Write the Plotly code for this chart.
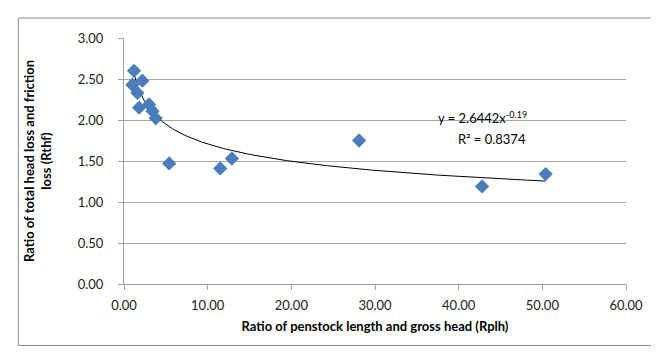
import numpy as np
import plotly.graph_objects as go

# Data
rplh = [1.2, 1.0, 2.2, 1.6, 1.8, 3.0, 3.4, 3.8, 5.4, 11.5, 12.9, 28.1, 42.8, 50.4]
rthf = [2.60, 2.43, 2.48, 2.33, 2.15, 2.19, 2.11, 2.02, 1.47, 1.41, 1.53, 1.75, 1.19, 1.34]

# Power trendline y = a * x^b
trend_a = 2.6442
trend_b = -0.19
r_squared = 0.8374

x_ticks = [0, 10, 20, 30, 40, 50, 60]
y_ticks = [0, 0.5, 1.0, 1.5, 2.0, 2.5, 3.0]

tx = np.linspace(min(rplh), max(rplh), 300)
ty = trend_a * tx ** trend_b

FONT = "Lato, 'Open Sans', sans-serif"

fig = go.Figure()
fig.add_trace(go.Scatter(
    x=tx, y=ty, mode="lines",
    line=dict(color="black", width=1), hoverinfo="skip", showlegend=False))
fig.add_trace(go.Scatter(
    x=rplh, y=rthf, mode="markers",
    marker=dict(symbol="diamond", size=11, color="#4A7EBB"),
    showlegend=False))

fig.update_layout(
    width=659, height=356,
    margin=dict(l=116, r=41, t=30, b=80),
    paper_bgcolor="white", plot_bgcolor="white",
    font=dict(family=FONT, size=13, color="#222222"),
    xaxis=dict(
        range=[0, 60], tickvals=x_ticks,
        ticktext=[f"{v:.2f}" for v in x_ticks],
        showgrid=False, zeroline=False,
        showline=True, linecolor="#A0A0A0", linewidth=1,
        ticks="outside", ticklen=5, tickcolor="#A0A0A0",
        ticklabelstandoff=4,
        title=dict(text="<b>Ratio of penstock length and gross head (Rplh)</b>",
                   font=dict(size=13, color="black"), standoff=10),
    ),
    yaxis=dict(
        range=[0, 3.0], tickvals=y_ticks,
        ticktext=[f"{v:.2f}" for v in y_ticks],
        showgrid=True, gridcolor="#A6A6A6", gridwidth=1,
        zeroline=False,
        showline=True, linecolor="#A0A0A0", linewidth=1,
        ticks="outside", ticklen=5, tickcolor="#A0A0A0",
        ticklabelstandoff=12,
        title=dict(text="<b>Ratio of total head loss and friction<br>loss (Rthf)</b>",
                   font=dict(size=13, color="black"), standoff=23),
    ),
    shapes=[dict(type="rect", xref="paper", yref="paper",
                 x0=-0.2105, x1=1.0645, y0=-0.25, y1=1.081,
                 line=dict(color="#8C8C8C", width=1), fillcolor="rgba(0,0,0,0)")],
    annotations=[
        dict(x=42.8, y=2.03, xref="x", yref="y", showarrow=False,
             text=f"y = {trend_a}x<sup>{trend_b}</sup>",
             font=dict(size=13, color="black")),
        dict(x=44.0, y=1.77, xref="x", yref="y", showarrow=False,
             text=f"R² = {r_squared}",
             font=dict(size=13, color="black")),
    ],
)

fig.write_html("out.html")
